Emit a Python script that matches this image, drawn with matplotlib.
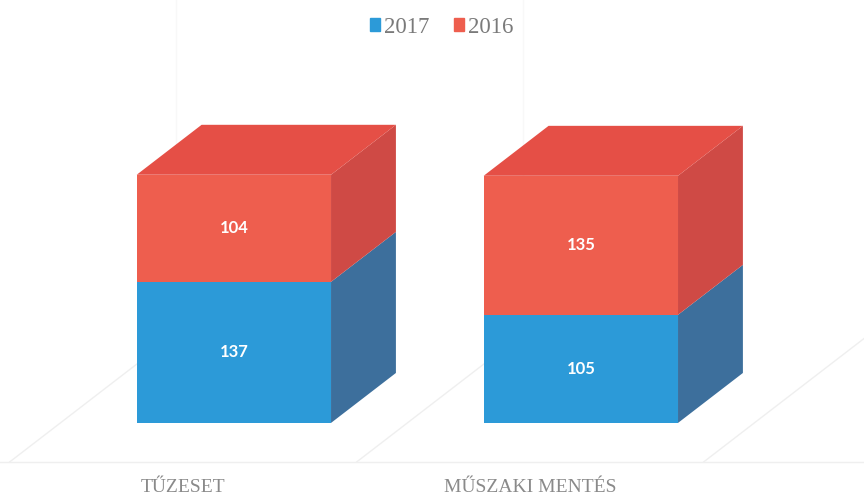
import matplotlib
matplotlib.use("Agg")
import matplotlib.pyplot as plt
from matplotlib.patches import Polygon, Patch

categories = ["TŰZESET", "MŰSZAKI MENTÉS"]
series_names = ["2017", "2016"]
values_2017 = [137, 105]
values_2016 = [104, 135]

# colours: front / side / top
blue_front, blue_side = "#2c9ad8", "#3d6f9c"
red_front, red_side, red_top = "#ee5e4e", "#cf4a45", "#e54f46"

fig = plt.figure(figsize=(8.64, 4.95), dpi=100)
ax = fig.add_axes([0, 0, 1, 1])
ax.set_xlim(-0.674, 1.816)
ax.set_ylim(-70, 410.7)
ax.axis("off")

width = 0.56
DX, DY = 0.187, 48.5   # depth of the pseudo 3d boxes
front, back = -0.78, 1.78  # floor extent in units of box depth
x = list(range(len(categories)))

# floor / back wall lines
grid_col = "#efefef"
ax.plot([-0.7, 1.9], [front * DY] * 2, color=grid_col, lw=1, zorder=0)
for b in [-0.5, 0.5, 1.5]:
    ax.plot([b + front * DX, b + back * DX], [front * DY, back * DY], color=grid_col, lw=1, zorder=0)
    ax.plot([b + back * DX] * 2, [back * DY, 420], color="#f8f8f8", lw=1, zorder=0)

# front faces
ax.bar(x, values_2017, width=width, color=blue_front, zorder=3)
ax.bar(x, values_2016, width=width, bottom=values_2017, color=red_front, zorder=3)

# side and top faces
for xi, v1, v2 in zip(x, values_2017, values_2016):
    r = xi + width / 2
    l = xi - width / 2
    for lo, hi, col in [(0, v1, blue_side), (v1, v1 + v2, red_side)]:
        ax.add_patch(Polygon([(r, lo), (r + DX, lo + DY), (r + DX, hi + DY), (r, hi)],
                             closed=True, color=col, lw=0, zorder=2))
    top = v1 + v2
    ax.add_patch(Polygon([(l, top), (l + DX, top + DY), (r + DX, top + DY), (r, top)],
                         closed=True, color=red_top, lw=0, zorder=2))
    ax.text(xi, v1 / 2, str(v1), color="white", fontsize=12, fontweight="bold",
            family="Lato", ha="center", va="center", zorder=4)
    ax.text(xi, v1 + v2 / 2, str(v2), color="white", fontsize=12, fontweight="bold",
            family="Lato", ha="center", va="center", zorder=4)

# category labels on the front edge of the floor
for xi, cat in zip(x, categories):
    ax.text(xi + front * DX, -63, cat, family="Liberation Serif", fontsize=14,
            color="#8a8a8a", ha="center", va="center")

handles = [Patch(color=blue_front), Patch(color=red_front)]
fig.legend(handles, series_names, loc="upper center", bbox_to_anchor=(0.511, 1.008), ncol=2,
           frameon=False, handlelength=0.45, handleheight=0.45, handletextpad=0.15,
           columnspacing=1.1, prop={"family": "Liberation Serif", "size": 16.5},
           labelcolor="#7a7a7a")

fig.savefig("out.png", dpi=100)
